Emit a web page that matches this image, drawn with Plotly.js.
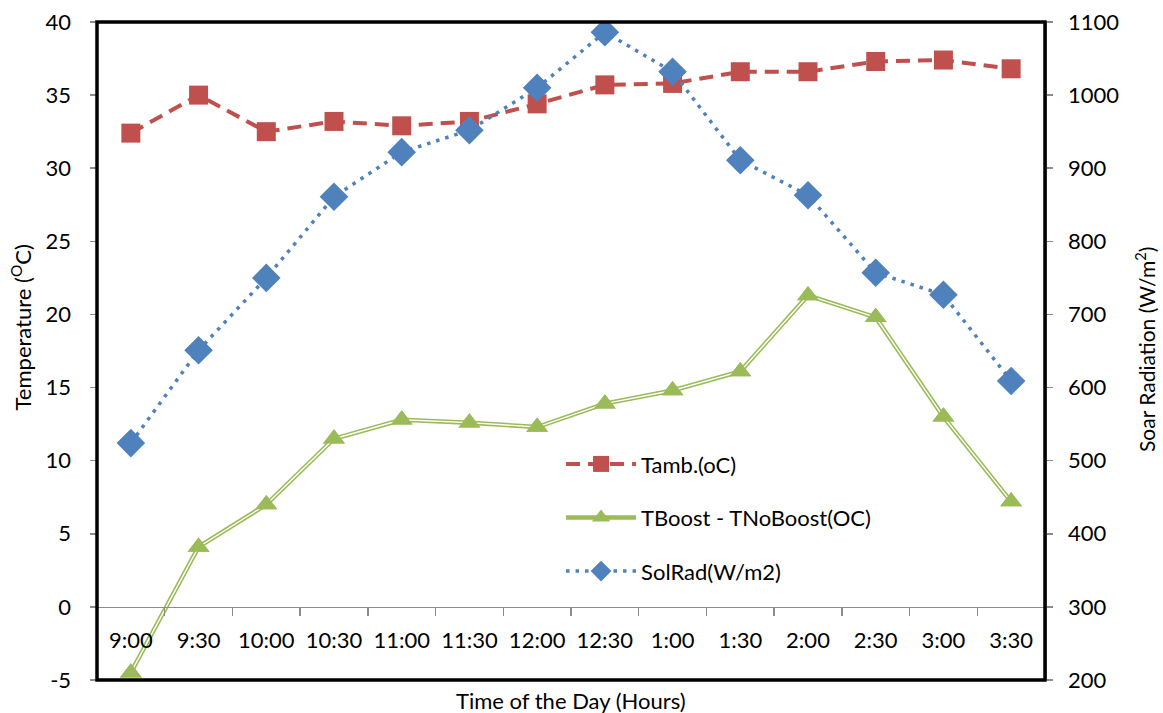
<!DOCTYPE html>
<html>
<head>
<meta charset="utf-8">
<script src="https://cdn.plot.ly/plotly-3.0.1.min.js"></script>
<style>html,body{margin:0;padding:0;background:#fff;}#chart{width:1163px;height:713px;}</style>
</head>
<body>
<div id="chart"></div>
<script>
var categories = ['9:00','9:30','10:00','10:30','11:00','11:30','12:00','12:30','1:00','1:30','2:00','2:30','3:00','3:30'];
var tamb = [32.4, 35.0, 32.5, 33.2, 32.9, 33.2, 34.4, 35.7, 35.8, 36.6, 36.6, 37.3, 37.4, 36.8];
var tboost = [-4.5, 4.1, 7.0, 11.5, 12.8, 12.6, 12.3, 13.9, 14.8, 16.1, 21.3, 19.8, 13.0, 7.2];
var solrad = [524, 651, 750, 861, 922, 952, 1010, 1086, 1032, 911, 863, 757, 727, 609];
var names = ['Tamb.(oC)', 'TBoost - TNoBoost(OC)', 'SolRad(W/m2)'];
var tempTickVals = [-5, 0, 5, 10, 15, 20, 25, 30, 35, 40];
var tempTickText = ['-5', '0', '5', '10', '15', '20', '25', '30', '35', '40'];

var FONT = 'Lato, "Open Sans", sans-serif';
var RED = '#C0504D', GREEN = '#9BBB59', BLUE = '#4F81BD';

var traces = [
  {x: categories, y: tamb, name: names[0], type: 'scatter', mode: 'lines+markers',
   legendgroup: 'a', yaxis: 'y',
   line: {color: RED, width: 4, dash: '14px,8px'},
   marker: {symbol: 'square', size: 19, color: RED}},
  {x: categories, y: tboost, name: names[1], type: 'scatter', mode: 'lines+markers',
   legendgroup: 'b', yaxis: 'y',
   line: {color: GREEN, width: 4.5},
   marker: {symbol: 'triangle-up', size: 19, color: GREEN}},
  {x: categories, y: tboost, name: names[1], type: 'scatter', mode: 'lines',
   showlegend: false, hoverinfo: 'skip', yaxis: 'y',
   line: {color: '#ffffff', width: 1.4}},
  {x: categories, y: tboost, name: names[1], type: 'scatter', mode: 'markers',
   showlegend: false, yaxis: 'y',
   marker: {symbol: 'triangle-up', size: 19, color: GREEN}},
  {x: categories, y: solrad, name: names[2], type: 'scatter', mode: 'lines+markers',
   legendgroup: 'c', yaxis: 'y2',
   line: {color: BLUE, width: 3.5, dash: '3.5px,6px'},
   marker: {symbol: 'diamond', size: 22, color: BLUE}}
];

var layout = {
  width: 1163, height: 713,
  margin: {l: 97, r: 118, t: 22, b: 33},
  paper_bgcolor: '#ffffff', plot_bgcolor: '#ffffff',
  font: {family: FONT, size: 22, color: '#000'},
  showlegend: true,
  legend: {x: 0.4895, y: 0.36, xanchor: 'left', yanchor: 'top',
           bgcolor: 'rgba(0,0,0,0)', itemwidth: 70, tracegroupgap: 22,
           font: {family: FONT, size: 22, color: '#000'}},
  xaxis: {type: 'category', range: [-0.5, 13.5], anchor: 'free', position: 5/45,
          showline: true, linecolor: '#8c8c8c', linewidth: 1.5,
          ticks: 'outside', tickson: 'boundaries', ticklen: 8, tickcolor: '#8c8c8c', tickwidth: 1.5,
          ticklabelstandoff: 13,
          showgrid: false, zeroline: false, fixedrange: true,
          tickfont: {family: FONT, size: 22, color: '#000'}},
  yaxis: {range: [-5, 40], tickmode: 'array', tickvals: tempTickVals, ticktext: tempTickText,
          showgrid: false, zeroline: false,
          showline: true, linecolor: '#8c8c8c', linewidth: 1.5,
          ticks: 'outside', ticklen: 6, tickcolor: '#8c8c8c', tickwidth: 1.5,
          ticklabelstandoff: 14,
          tickfont: {family: FONT, size: 22, color: '#000'}},
  yaxis2: {range: [200, 1100], dtick: 100, overlaying: 'y', side: 'right',
           showgrid: false, zeroline: false,
           showline: true, linecolor: '#8c8c8c', linewidth: 1.5,
           ticks: 'outside', ticklen: 6, tickcolor: '#8c8c8c', tickwidth: 1.5,
           ticklabelstandoff: 11,
           tickfont: {family: FONT, size: 22, color: '#000'}},
  shapes: [
    {type: 'rect', xref: 'paper', yref: 'paper', x0: 0, x1: 1, y0: 0, y1: 1,
     line: {color: '#000', width: 3.5}, fillcolor: 'rgba(0,0,0,0)', layer: 'above'}
  ],
  annotations: [
    {text: 'Temperature (<sup>O</sup>C)', xref: 'paper', yref: 'paper', x: -0.080, y: 0.536,
     textangle: -90, showarrow: false, xanchor: 'center', yanchor: 'middle',
     font: {family: FONT, size: 22, color: '#000'}},
    {text: 'Soar Radiation (W/m<sup>2</sup>)', xref: 'paper', yref: 'paper', x: 1.1055, y: 0.5015,
     textangle: -90, showarrow: false, xanchor: 'center', yanchor: 'middle',
     font: {family: FONT, size: 21, color: '#000'}},
    {text: 'Time of the Day (Hours)', xref: 'paper', yref: 'paper', x: 0.5, y: -0.0304,
     showarrow: false, xanchor: 'center', yanchor: 'middle',
     font: {family: FONT, size: 22, color: '#000'}}
  ]
};

Plotly.newPlot('chart', traces, layout, {displayModeBar: false, staticPlot: true});
</script>
</body>
</html>
